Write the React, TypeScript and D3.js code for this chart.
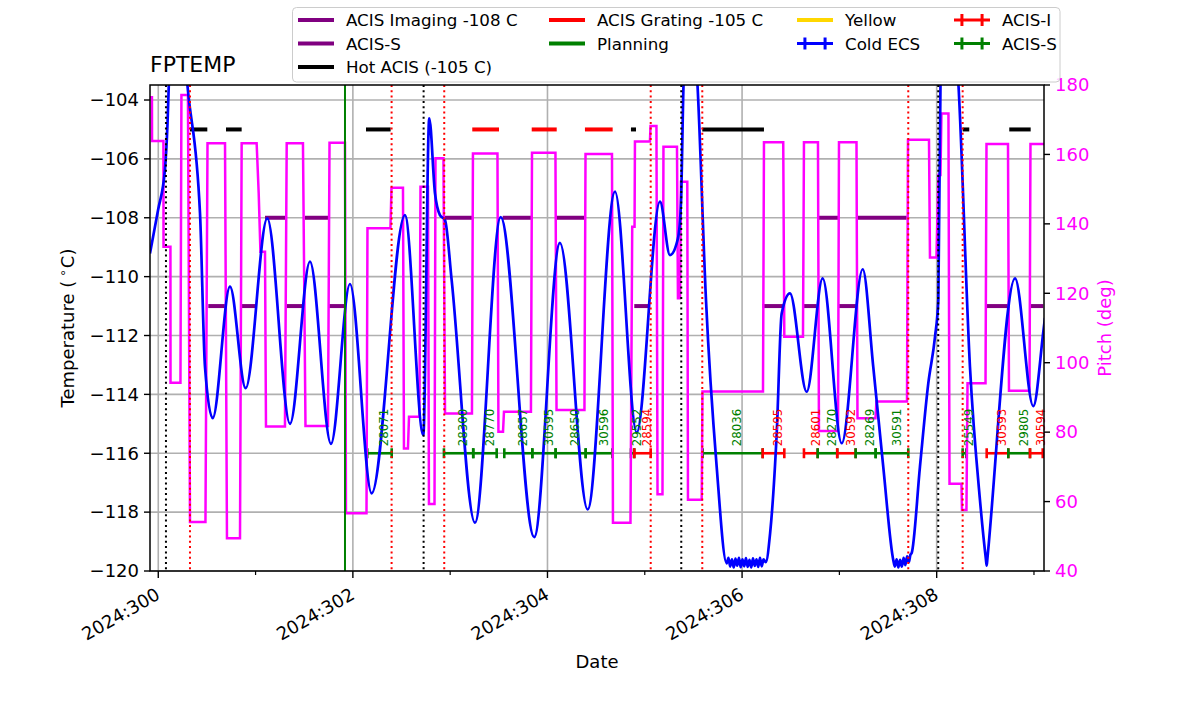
import React from 'react';
import * as d3 from 'd3';

const W = 1200;
const H = 714;
const M = { left: 150, right: 1044, top: 85, bottom: 571 };

// ---- axes ----
const xDomain = [299.915, 309.103];
const tempDomain = [-120, -103.49];
const pitchDomain = [40, 180];
const tempTicks = [-120, -118, -116, -114, -112, -110, -108, -106, -104];
const pitchTicks = [40, 60, 80, 100, 120, 140, 160, 180];
const majorDays = [300, 302, 304, 306, 308];
const minorDays = [301, 303, 305, 307, 309];

// ---- FPTEMP (blue) ----
const tempDays = [
  299.915, 299.997, 300.069, 300.095, 300.115, 300.192, 300.274, 300.3, 300.429, 300.48,
  300.559, 300.737, 300.898, 301.12, 301.354, 301.559, 301.775, 301.97, 302.193, 302.535,
  302.724, 302.785, 302.844, 302.895, 302.947, 303.015, 303.255, 303.519, 303.864, 304.128,
  304.413, 304.694, 304.917, 305.156, 305.259, 305.341, 305.372, 305.398, 305.465, 305.542,
  305.629, 305.739, 305.842,
  305.86, 305.878, 305.896, 305.914, 305.932, 305.95, 305.968, 305.986, 306.004, 306.022,
  306.04, 306.058, 306.076, 306.094, 306.112, 306.13, 306.148, 306.166, 306.184, 306.202, 306.22,
  306.243, 306.288, 306.356, 306.407, 306.492, 306.664, 306.828, 307.024, 307.24, 307.348,
  307.451, 307.554,
  307.57, 307.588, 307.606, 307.624, 307.642, 307.66, 307.678, 307.696, 307.714, 307.73,
  307.743, 307.828, 307.914, 307.983, 308.017, 308.039, 308.127, 308.224, 308.342, 308.445,
  308.506, 308.514, 308.522, 308.805, 308.993, 309.096, 309.113,
];
const tempVals = [
  -109.21, -107.75, -106.35, -104.8, -102.8, -99.5, -102.5, -103.5, -107.85, -113.06,
  -114.81, -110.34, -113.79, -108.02, -115.0, -109.49, -115.68, -110.25, -117.36, -107.91,
  -115.38, -104.62, -107.17, -107.91, -108.08, -110.11, -118.36, -107.98, -118.85, -108.85,
  -117.91, -107.11, -115.3, -107.45, -109.27, -108.7, -107.5, -103.5, -100.0, -103.5,
  -110.79, -116.46, -119.74,
  -119.55, -119.85, -119.6, -119.88, -119.58, -119.82, -119.55, -119.87, -119.6, -119.84,
  -119.56, -119.86, -119.62, -119.88, -119.57, -119.83, -119.6, -119.86, -119.55, -119.84, -119.6,
  -119.7, -118.72, -115.32, -111.25, -110.57, -113.91, -110.06, -115.66, -109.75, -113.06,
  -116.46, -119.63,
  -119.85, -119.6, -119.88, -119.62, -119.85, -119.55, -119.8, -119.5, -119.7, -119.45,
  -119.39, -116.46, -113.62, -112.04, -110.79, -103.5, -99.5, -103.5, -113.06, -117.59,
  -119.6, -119.82, -119.55, -110.06, -114.4, -111.87, -111.4,
];

// ---- Pitch (magenta) ----
const pitchDays = [
  299.915, 299.935, 299.936, 300.053, 300.054, 300.125, 300.126, 300.228, 300.238, 300.305,
  300.326, 300.485, 300.506, 300.686, 300.706, 300.84, 300.857, 301.011, 301.032, 301.05,
  301.097, 301.107, 301.302, 301.32, 301.487, 301.513, 301.744, 301.76, 301.919, 301.929,
  302.14, 302.15, 302.386, 302.397, 302.515, 302.525, 302.566, 302.577, 302.684, 302.695,
  302.772, 302.782, 302.839, 302.849, 302.931, 302.947, 303.224, 303.234, 303.486, 303.496,
  303.543, 303.553, 303.83, 303.841, 304.082, 304.093, 304.38, 304.391, 304.663, 304.673,
  304.853, 304.871, 304.895, 304.899, 305.053, 305.059, 305.12, 305.131, 305.182, 305.192,
  305.331, 305.341, 305.362, 305.372, 305.437, 305.444, 305.585, 305.593, 306.215, 306.225,
  306.423, 306.434, 306.626, 306.636, 306.78, 306.79, 306.986, 306.996, 307.176, 307.186,
  307.371, 307.381, 307.695, 307.705, 307.921, 307.931, 307.998, 308.018, 308.039, 308.049,
  308.121, 308.132, 308.255, 308.26, 308.306, 308.317, 308.502, 308.512, 308.733, 308.743,
  308.954, 308.964, 309.103,
];
const pitchVals = [
  176.5, 176.5, 163.9, 163.9, 133.4, 133.4, 94.2, 94.2, 177.1, 177.1,
  54.1, 54.1, 163.2, 163.2, 49.4, 49.4, 163.2, 163.2, 148.9, 132.0,
  132.0, 81.6, 81.6, 163.2, 163.2, 81.8, 81.8, 163.4, 163.4, 56.6,
  56.6, 138.7, 138.7, 150.4, 150.4, 75.3, 75.3, 84.4, 84.4, 150.7,
  150.7, 59.3, 59.3, 158.9, 158.9, 85.4, 85.4, 160.3, 160.3, 80.1,
  80.1, 85.9, 85.9, 160.5, 160.5, 86.4, 86.4, 160.1, 160.1, 53.9,
  53.9, 139.2, 139.2, 163.7, 163.7, 168.2, 168.2, 62.1, 62.1, 162.2,
  162.2, 118.6, 118.6, 152.1, 152.1, 60.5, 60.5, 91.7, 91.7, 163.5,
  163.5, 107.5, 107.5, 163.5, 163.5, 80.3, 80.3, 163.5, 163.5, 84.0,
  84.0, 88.8, 88.8, 164.2, 164.2, 130.3, 130.3, 154.1, 154.1, 171.8,
  171.8, 65.1, 65.1, 57.6, 57.6, 94.1, 94.1, 163.0, 163.0, 91.9,
  91.9, 163.0, 163.0,
];

// ---- horizontal limit bars: [start, end] in day of year ----
const hotAcisLevel = -105;
const hotAcis = [
  [300.326, 300.504], [300.696, 300.857], [302.135, 302.388], [304.858, 304.91],
  [305.591, 306.225], [308.267, 308.335], [308.746, 308.966],
];
const gratingLevel = -105;
const acisGrating = [[303.227, 303.502], [303.838, 304.095], [304.385, 304.67]];
const imagingLevel = -108;
const acisImaging = [
  [301.097, 301.312], [301.508, 301.747], [302.947, 303.237], [303.54, 303.848],
  [304.077, 304.396], [306.783, 306.996], [307.184, 307.692],
];
const acisSLevel = -111;
const acisS = [
  [300.514, 300.696], [300.847, 301.004], [301.32, 301.484], [301.747, 301.919],
  [304.892, 305.053], [306.208, 306.441], [306.629, 306.767], [306.989, 307.178],
  [308.514, 308.746], [308.959, 309.096],
];

// ---- vertical markers ----
const blackVlines = [300.079, 302.727, 305.375, 308.016];
const redVlines = [300.326, 302.398, 302.939, 305.061, 305.591, 307.708, 308.267];
const planningVlines = [301.919];

// ---- observations (errorbars at -116) ----
const obsLevel = -116;
const obsStart = [
  302.148, 302.936, 303.237, 303.556, 303.844, 304.084, 304.393, 304.858, 304.892, 305.595,
  306.212, 306.636, 306.777, 306.978, 307.167, 307.373, 308.267, 308.514, 308.736, 308.959,
];
const obsEnd = [
  302.399, 303.237, 303.478, 303.844, 304.084, 304.393, 304.666, 304.892, 305.061, 306.212,
  306.434, 306.777, 306.978, 307.167, 307.373, 307.708, 308.304, 308.736, 308.959, 309.09,
];
const obsIds = [
  '28071', '28300', '28770', '28657', '30595', '28650', '30596', '29552', '28594', '28036',
  '28595', '28601', '28270', '30592', '28269', '30591', '25549', '30593', '29805', '30594',
];
const obsInst = [
  'S', 'S', 'S', 'S', 'S', 'S', 'S', 'S', 'I', 'S',
  'I', 'I', 'S', 'I', 'S', 'S', 'S', 'I', 'S', 'I',
];

const FONT = 'DejaVu Sans, Verdana, sans-serif';
const PURPLE = '#800080';
const GREEN = '#008000';
const RED = '#ff0000';
const BLUE = '#0000ff';
const MAGENTA = '#ff00ff';
const GOLD = '#ffd700';
const GRID = '#b0b0b0';

type LegendItem = { label: string; color: string; kind: 'line' | 'err' };
const legendCols: LegendItem[][] = [
  [
    { label: 'ACIS Imaging -108 C', color: PURPLE, kind: 'line' },
    { label: 'ACIS-S', color: PURPLE, kind: 'line' },
    { label: 'Hot ACIS (-105 C)', color: '#000000', kind: 'line' },
  ],
  [
    { label: 'ACIS Grating -105 C', color: RED, kind: 'line' },
    { label: 'Planning', color: GREEN, kind: 'line' },
  ],
  [
    { label: 'Yellow', color: GOLD, kind: 'line' },
    { label: 'Cold ECS', color: BLUE, kind: 'err' },
  ],
  [
    { label: 'ACIS-I', color: RED, kind: 'err' },
    { label: 'ACIS-S', color: GREEN, kind: 'err' },
  ],
];
const legendColX = [298, 549, 797, 954];

export default function App() {
  const x = d3.scaleLinear().domain(xDomain).range([M.left, M.right]);
  const yT = d3.scaleLinear().domain(tempDomain).range([M.bottom, M.top]);
  const yP = d3.scaleLinear().domain(pitchDomain).range([M.bottom, M.top]);

  const tempPath = d3
    .line<number>()
    .x((_, i) => x(tempDays[i]))
    .y((d) => yT(d))
    .curve(d3.curveMonotoneX)(tempVals) as string;
  const pitchPath = d3
    .line<number>()
    .x((_, i) => x(pitchDays[i]))
    .y((d) => yP(d))(pitchVals) as string;

  const bars = (segs: number[][], level: number, color: string, key: string) =>
    segs.map((s, i) => (
      <line
        key={key + i}
        x1={x(s[0])}
        x2={x(s[1])}
        y1={yT(level)}
        y2={yT(level)}
        stroke={color}
        strokeWidth={4}
      />
    ));

  const vlines = (days: number[], color: string, dash: string | undefined, key: string) =>
    days.map((d, i) => (
      <line
        key={key + i}
        x1={x(d)}
        x2={x(d)}
        y1={M.top}
        y2={M.bottom}
        stroke={color}
        strokeWidth={2}
        strokeDasharray={dash}
      />
    ));

  const obsY = yT(obsLevel);
  const legendRowY = [20, 43.5, 67];
  const handleLen = 36;

  return (
    <svg
      width={W}
      height={H}
      style={{ position: 'absolute', left: 0, top: 0, background: '#fff' }}
      fontFamily={FONT}
    >
      <defs>
        <clipPath id="plotClip">
          <rect x={M.left} y={M.top} width={M.right - M.left} height={M.bottom - M.top} />
        </clipPath>
      </defs>
      <rect x={0} y={0} width={W} height={H} fill="#fff" />

      {/* grid */}
      <g stroke={GRID} strokeWidth={1.6}>
        {majorDays.map((d) => (
          <line key={'gx' + d} x1={x(d)} x2={x(d)} y1={M.top} y2={M.bottom} />
        ))}
        {tempTicks.map((t) => (
          <line key={'gy' + t} x1={M.left} x2={M.right} y1={yT(t)} y2={yT(t)} />
        ))}
      </g>

      <g clipPath="url(#plotClip)">
        {bars(acisImaging, imagingLevel, PURPLE, 'im')}
        {bars(acisS, acisSLevel, PURPLE, 'as')}
        {bars(hotAcis, hotAcisLevel, '#000000', 'ha')}
        {bars(acisGrating, gratingLevel, RED, 'gr')}

        {/* observation errorbars */}
        {obsIds.map((id, i) => {
          const c = obsInst[i] === 'I' ? RED : GREEN;
          const x1 = x(obsStart[i]);
          const x2 = x(obsEnd[i]);
          return (
            <g key={'ob' + i} stroke={c} strokeWidth={2.6}>
              <line x1={x1} x2={x2} y1={obsY} y2={obsY} />
              <line x1={x1} x2={x1} y1={obsY - 5} y2={obsY + 5} />
              <line x1={x2} x2={x2} y1={obsY - 5} y2={obsY + 5} />
            </g>
          );
        })}

        <path d={pitchPath} fill="none" stroke={MAGENTA} strokeWidth={2.5} strokeLinejoin="miter" />
        <path d={tempPath} fill="none" stroke={BLUE} strokeWidth={2.7} strokeLinejoin="round" />

        {vlines(blackVlines, '#000000', '2,3.3', 'bv')}
        {vlines(redVlines, RED, '2,3.3', 'rv')}
        {vlines(planningVlines, GREEN, undefined, 'pv')}
      </g>

      {/* obsid labels */}
      {obsIds.map((id, i) => {
        const mid = x((obsStart[i] + obsEnd[i]) / 2);
        const c = obsInst[i] === 'I' ? RED : GREEN;
        return (
          <text
            key={'ol' + i}
            transform={`translate(${mid + 8.7},${obsY - 7}) rotate(-90)`}
            fontSize={11.8}
            fill={c}
          >
            {id}
          </text>
        );
      })}

      {/* spines */}
      <rect
        x={M.left}
        y={M.top}
        width={M.right - M.left}
        height={M.bottom - M.top}
        fill="none"
        stroke="#000"
        strokeWidth={1.5}
      />

      {/* left axis */}
      {tempTicks.map((t) => (
        <g key={'lt' + t}>
          <line x1={M.left - 6} x2={M.left} y1={yT(t)} y2={yT(t)} stroke="#000" strokeWidth={1.4} />
          <text x={M.left - 11} y={yT(t)} dy="0.35em" textAnchor="end" fontSize={18} fill="#000">
            {'\u2212' + Math.abs(t)}
          </text>
        </g>
      ))}
      <text transform={`translate(74,${(M.top + M.bottom) / 2}) rotate(-90)`} textAnchor="middle" fontSize={18}>
        Temperature (
        <tspan dx={4} dy={-7} fontSize={12}>
          ∘
        </tspan>
        <tspan dx={1} dy={7}>
          C)
        </tspan>
      </text>

      {/* right axis */}
      {pitchTicks.map((p) => (
        <g key={'rt' + p}>
          <line x1={M.right} x2={M.right + 6} y1={yP(p)} y2={yP(p)} stroke="#000" strokeWidth={1.4} />
          <text x={M.right + 11} y={yP(p)} dy="0.35em" textAnchor="start" fontSize={18} fill={MAGENTA}>
            {p}
          </text>
        </g>
      ))}
      <text
        transform={`translate(1111,${(M.top + M.bottom) / 2}) rotate(-90)`}
        textAnchor="middle"
        fontSize={18}
        fill={MAGENTA}
      >
        Pitch (deg)
      </text>

      {/* x axis */}
      {majorDays.map((d) => (
        <g key={'xt' + d}>
          <line x1={x(d)} x2={x(d)} y1={M.bottom} y2={M.bottom + 7} stroke="#000" strokeWidth={1.4} />
          <text
            transform={`translate(${x(d) + 3},${M.bottom + 27}) rotate(-30)`}
            textAnchor="end"
            fontSize={18}
          >
            {'2024:' + d}
          </text>
        </g>
      ))}
      {minorDays.map((d) => (
        <line key={'xm' + d} x1={x(d)} x2={x(d)} y1={M.bottom} y2={M.bottom + 4} stroke="#000" strokeWidth={1.2} />
      ))}
      <text x={(M.left + M.right) / 2} y={668} textAnchor="middle" fontSize={18}>
        Date
      </text>

      {/* title */}
      <text x={M.left} y={72} fontSize={22}>
        FPTEMP
      </text>

      {/* legend */}
      <rect x={292.5} y={7.5} width={767.5} height={74.5} rx={4} fill="#fff" fillOpacity={0.8} stroke="#cccccc" />
      {legendCols.map((col, ci) =>
        col.map((it, ri) => {
          const lx = legendColX[ci];
          const ly = legendRowY[ri];
          return (
            <g key={'lg' + ci + '-' + ri}>
              {it.kind === 'line' ? (
                <line x1={lx} x2={lx + handleLen} y1={ly} y2={ly} stroke={it.color} strokeWidth={4} />
              ) : (
                <g stroke={it.color} strokeWidth={3}>
                  <line x1={lx} x2={lx + handleLen} y1={ly} y2={ly} />
                  <line x1={lx + handleLen * 0.22} x2={lx + handleLen * 0.22} y1={ly - 6} y2={ly + 6} />
                  <line x1={lx + handleLen * 0.78} x2={lx + handleLen * 0.78} y1={ly - 6} y2={ly + 6} />
                </g>
              )}
              <text x={lx + handleLen + 12} y={ly} dy="0.36em" fontSize={16.7} fill="#000">
                {it.label}
              </text>
            </g>
          );
        })
      )}
    </svg>
  );
}
